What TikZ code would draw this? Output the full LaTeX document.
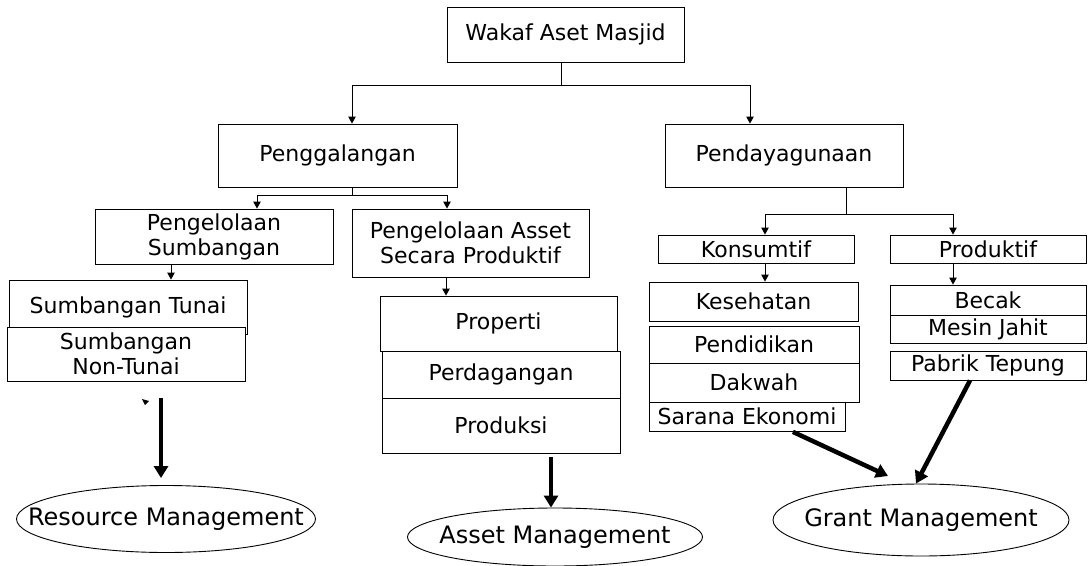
\documentclass[tikz,border=0pt]{standalone}
\usepackage{fontspec}
\setmainfont{DejaVu Sans}
\usetikzlibrary{arrows.meta,shapes.geometric}
\begin{document}
\begin{tikzpicture}[x=1pt,y=-1pt,
  box/.style={draw, line width=0.9pt, fill=white, inner sep=0pt, align=center,
    font=\fontsize{22}{25}\selectfont},
  oval/.style={draw, ellipse, line width=0.9pt, inner sep=0pt,
    font=\fontsize{24}{28}\selectfont},
  link/.style={line width=0.9pt},
  arr/.style={line width=0.9pt, -{Triangle[length=7pt,width=7.5pt]}},
  bigarr/.style={line width=4.5pt, -{Triangle[length=12pt,width=14pt]}}]
\useasboundingbox (0,0) rectangle (1089,565);

% boxes
\node[box, minimum width=237pt, minimum height=55pt] (top) at (565.5,34.5) {Wakaf Aset Masjid};
\node[box, minimum width=239pt, minimum height=63pt] (pg) at (337.5,155.5) {Penggalangan};
\node[box, minimum width=238pt, minimum height=63pt] (pd) at (784,155.5) {Pendayagunaan};
\node[box, minimum width=238pt, minimum height=55pt] (ps) at (214,236.5) {Pengelolaan\\Sumbangan};
\node[box, minimum width=237pt, minimum height=68pt] (pa) at (470.5,243) {Pengelolaan Asset\\Secara Produktif};
\node[box, minimum width=238pt, minimum height=54pt] (st) at (128,307) {Sumbangan Tunai};
\node[box, minimum width=238pt, minimum height=54pt] (snt) at (126,354) {Sumbangan\\Non-Tunai};
\node[box, minimum width=237pt, minimum height=55pt] (prop) at (498.5,323.5) {Properti};
\node[box, minimum width=238pt, minimum height=47pt] (perd) at (501,374.5) {Perdagangan};
\node[box, minimum width=238pt, minimum height=55pt] (prod) at (501,425.5) {Produksi};
\node[box, minimum width=196pt, minimum height=28pt] (kons) at (756,249) {Konsumtif};
\node[box, minimum width=196pt, minimum height=28pt] (prodf) at (988,249) {Produktif};
\node[box, minimum width=209pt, minimum height=39pt] (kes) at (753.5,301.5) {Kesehatan};
\node[box, minimum width=210pt, minimum height=37pt] (pend) at (754,344.5) {Pendidikan};
\node[box, minimum width=210pt, minimum height=39pt] (dak) at (754,382.5) {Dakwah};
\node[box, minimum width=196pt, minimum height=29pt] (sar) at (747,416.5) {Sarana Ekonomi};
\node[box, minimum width=196pt, minimum height=30pt] (bec) at (988,300) {Becak};
\node[box, minimum width=196pt, minimum height=28pt] (mes) at (988,329) {Mesin Jahit};
\node[box, minimum width=196pt, minimum height=29pt] (pab) at (988,365.5) {Pabrik Tepung};

% ellipses
\node[oval, minimum width=299pt, minimum height=67pt] (rm) at (166,519) {\makebox[0pt]{Resource Management}};
\node[oval, minimum width=295pt, minimum height=58pt] (am) at (555,537) {\makebox[0pt]{Asset Management}};
\node[oval, minimum width=296pt, minimum height=72pt] (gm) at (921,520) {\makebox[0pt]{Grant Management}};

% helper coordinates
\coordinate (j1) at (561,85);
\coordinate (x352) at (352,0);
\coordinate (x750) at (750,0);
\coordinate (j2) at (352,195);
\coordinate (x257) at (257,0);
\coordinate (x447) at (447,0);
\coordinate (j3) at (846,214);
\coordinate (x765) at (765,0);
\coordinate (x953) at (953,0);
\coordinate (x171) at (171,0);
\coordinate (x446) at (446,0);
\coordinate (x161) at (161,0);
\coordinate (x551) at (551,0);
\coordinate (x792) at (792,0);
\coordinate (x970) at (970,0);
\coordinate (x916) at (916,0);
\coordinate (tipS) at (888,476);

% connectors
\draw[link] (top.south -| j1) -- (j1);
\draw[arr] (j1) -| (pg.north -| x352);
\draw[arr] (j1) -| (pd.north -| x750);
\draw[link] (pg.south -| j2) -- (j2);
\draw[arr] (j2) -| (ps.north -| x257);
\draw[arr] (j2) -| (pa.north -| x447);
\draw[link] (pd.south -| j3) -- (j3);
\draw[arr] (j3) -| (kons.north -| x765);
\draw[arr] (j3) -| (prodf.north -| x953);
\draw[arr] (ps.south -| x171) -- (st.north -| x171);
\draw[arr] (pa.south -| x446) -- (prop.north -| x446);
\draw[arr] (kons.south -| x765) -- (kes.north -| x765);
\draw[arr] (prodf.south -| x953) -- (bec.north -| x953);

% stray small arrowhead
\fill (142,399) -- (149,401) -- (145,405) -- cycle;

% thick arrows
\draw[bigarr, shorten <=17pt, shorten >=7pt] (snt.south -| x161) -- (rm.north -| x161);
\draw[bigarr, shorten <=4pt] (prod.south -| x551) -- (am.north -| x551);
\draw[bigarr, shorten <=1pt] (sar.south -| x792) -- (tipS);
\draw[bigarr] (pab.south -| x970) -- (gm.north -| x916);
\end{tikzpicture}
\end{document}
